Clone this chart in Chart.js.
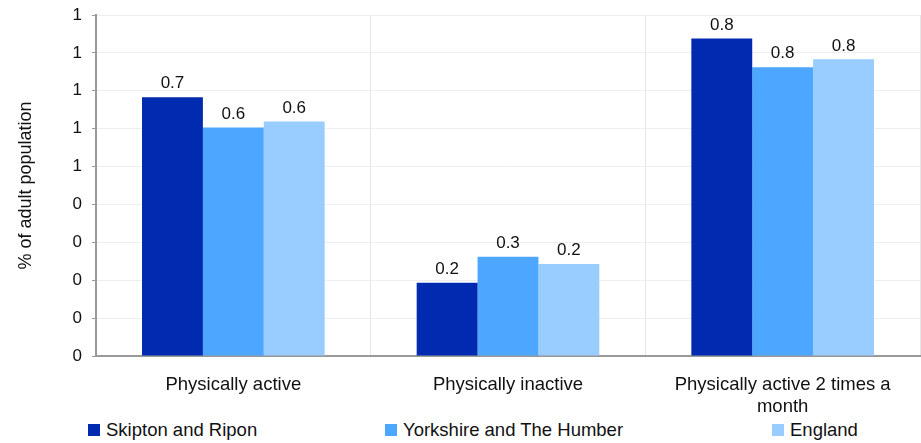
<!DOCTYPE html>
<html>
<head>
<meta charset="utf-8">
<script src="https://cdn.jsdelivr.net/npm/chart.js@4/dist/chart.umd.min.js"></script>
<style>
  body { margin: 0; background: #fff; font-family: "Liberation Sans", Arial, sans-serif; }
  #wrap { position: relative; width: 921px; height: 443px; }
  #box { position: absolute; left: 0; top: 0; width: 921px; height: 418px; }
  #legenda { position: absolute; left: 0; top: 419px; width: 921px; height: 24px; font-size: 18.5px; color: #111; }
  #legenda span.item { position: absolute; top: 0; white-space: nowrap; }
  #legenda i { display: inline-block; width: 12px; height: 12px; margin-right: 6px; vertical-align: 0px; }
</style>
</head>
<body>
<div id="wrap">
  <div id="box"><canvas id="grafico" width="921" height="418"></canvas></div>
  <div id="legenda"></div>
</div>
<script>
const categorias = ['Physically active', 'Physically inactive', ['Physically active 2 times a', 'month']];
const series = ['Skipton and Ripon', 'Yorkshire and The Humber', 'England'];
const skipton = [0.683, 0.193, 0.838];
const yorkshire = [0.603, 0.262, 0.762];
const england = [0.619, 0.243, 0.783];
const cores = ['#002AAF', '#4DA6FF', '#99CCFF'];
const legendaX = [88, 385, 772];
const fonte = '"Liberation Sans", Arial, sans-serif';

// rotulos de valor em cima das barras
const rotulos = {
  id: 'rotulos',
  afterDatasetsDraw(chart) {
    const ctx = chart.ctx;
    ctx.save();
    ctx.font = '17px ' + fonte;
    ctx.fillStyle = '#111';
    ctx.textAlign = 'center';
    ctx.textBaseline = 'bottom';
    chart.data.datasets.forEach((ds, i) => {
      chart.getDatasetMeta(i).data.forEach((barra, j) => {
        ctx.fillText(ds.data[j].toFixed(1), barra.x, barra.y - 5);
      });
    });
    ctx.restore();
  }
};

const valores = [skipton, yorkshire, england];
new Chart(document.getElementById('grafico'), {
  type: 'bar',
  data: {
    labels: categorias,
    datasets: series.map((nome, i) => ({
      label: nome,
      data: valores[i],
      backgroundColor: cores[i],
      categoryPercentage: 0.665,
      barPercentage: 1.0
    }))
  },
  options: {
    responsive: false,
    animation: false,
    devicePixelRatio: 1,
    layout: { padding: { top: 15, right: 1 } },
    plugins: { legend: { display: false }, tooltip: { enabled: false } },
    scales: {
      x: {
        grid: { color: '#e6e6e6', lineWidth: 1, offset: true, drawTicks: false },
        border: { color: '#999', width: 2 },
        ticks: { color: '#111', font: { size: 18.5, family: fonte }, padding: 18, maxRotation: 0 },
        afterFit(s) { s.height = 62; }
      },
      y: {
        min: 0, max: 0.9,
        grid: { color: '#eeeeee', lineWidth: 1, tickColor: '#999', tickLength: 4 },
        border: { color: '#999', width: 2 },
        ticks: {
          stepSize: 0.1,
          color: '#111',
          font: { size: 17, family: fonte },
          padding: 10,
          callback: v => Math.round(v).toString()
        },
        title: {
          display: true,
          text: '% of adult population',
          color: '#111',
          font: { size: 18, family: fonte },
          padding: { top: 15, bottom: 0 }
        },
        afterFit(s) { s.width = 96; s.paddingTop = 0; }
      }
    }
  },
  plugins: [rotulos]
});

// legenda em html
const leg = document.getElementById('legenda');
series.forEach((nome, i) => {
  const item = document.createElement('span');
  item.className = 'item';
  item.style.left = legendaX[i] + 'px';
  item.innerHTML = '<i style="background:' + cores[i] + '"></i>' + nome;
  leg.appendChild(item);
});
</script>
</body>
</html>
